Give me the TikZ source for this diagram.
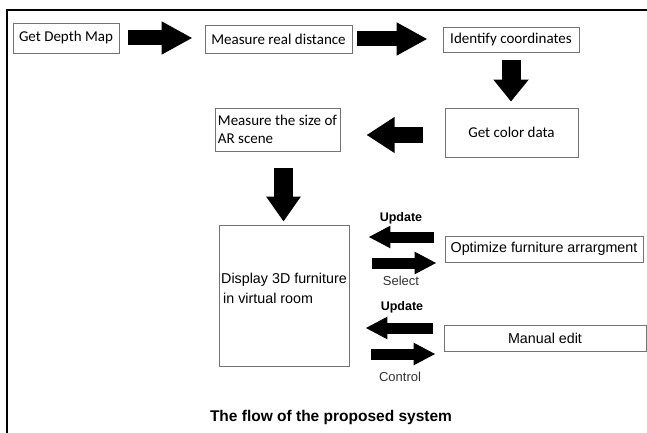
\documentclass[tikz,border=0pt]{standalone}
\usepackage{fontspec}
\setmainfont{Carlito}
\newfontfamily\arialfont{Liberation Sans}
\usetikzlibrary{arrows.meta}

\begin{document}
\begin{tikzpicture}[x=1pt, y=-1pt,
        box/.style={draw=black!55, line width=0.9pt, inner sep=0pt, text=black,
            font=\fontsize{15}{18}\selectfont},
        wbox/.style={box, font=\arialfont\fontsize{14.3}{20}\selectfont},
        bigarrow/.style={line width=15pt, -{Triangle[length=31pt,width=31pt]}},
        smallarrow/.style={line width=11pt, -{Triangle[length=22pt,width=21pt]}},
        lbl/.style={font=\arialfont\fontsize{13}{15}\selectfont, text=black!80}]
    \useasboundingbox (0,0) rectangle (647,433);

    % frame
    \draw[line width=1.1pt] (7,433) -- (7,10) -- (647,10);

    % top row
    \node[box, minimum width=106pt, minimum height=30pt] (gdm) at (66,38) {Get Depth Map};
    \node[box, minimum width=147pt, minimum height=28pt] (mrd) at (278.5,39) {Measure real distance};
    \node[box, minimum width=136pt, minimum height=25pt] (idc) at (511,39.5) {Identify coordinates};

    % second row
    \node[box, minimum width=133pt, minimum height=49pt] (gcd) at (511.5,132.5) {Get color data};
    \node[box, minimum width=123pt, minimum height=43pt, align=left, inner xsep=3pt] (msar) at (277.5,129.5)
        {Measure the size of\\AR scene};

    % bottom part
    \node[wbox, minimum width=130pt, minimum height=141pt] (disp) at (284,295.5) {};
    \node[align=left, text=black, font=\arialfont\fontsize{14.3}{20}\selectfont] (disptext)
        at ([yshift=7.5pt]disp.center) {Display 3D furniture\\\hspace*{2pt}in virtual room};
    \node[wbox, minimum width=198pt, minimum height=26pt] (opt) at (544,249) {Optimize furniture arrargment};
    \node[wbox, minimum width=202pt, minimum height=26pt] (med) at (545,338) {Manual edit};

    % block arrows
    \draw[bigarrow, shorten <=9pt, shorten >=12pt] (gdm.east) -- (gdm.east -| mrd.west);
    \draw[bigarrow, shorten <=5pt, shorten >=15pt] (mrd.east) -- (mrd.east -| idc.west);
    \draw[line width=19pt, -{Triangle[length=22pt,width=34pt]}, shorten <=8pt, shorten >=6pt]
        (idc.south) -- (idc.south |- gcd.north);
    \draw[line width=16pt, -{Triangle[length=28pt,width=34pt]}, shorten <=22pt, shorten >=26pt]
        ([yshift=-2.5pt]gcd.west) -- ([yshift=-2.5pt]gcd.west -| msar.east);
    \draw[line width=19pt, -{Triangle[length=25pt,width=33pt]}, shorten <=17pt, shorten >=3pt]
        ([xshift=6pt]msar.south) -- ([xshift=6pt]msar.south |- disp.north);

    \draw[smallarrow, shorten <=11pt, shorten >=19pt] ([yshift=12pt]opt.west) -- ([yshift=12pt]opt.west -| disp.east)
        node[lbl, midway, xshift=4pt, yshift=19pt, font=\arialfont\bfseries\fontsize{12.5}{15}\selectfont, text=black] {Update};
    \draw[smallarrow, shorten <=23pt, shorten >=8pt] ([yshift=-14pt]opt.west -| disp.east) -- ([yshift=-14pt]opt.west)
        node[lbl, midway, xshift=4pt, yshift=-18pt] {Select};
    \draw[smallarrow, shorten <=11pt, shorten >=16pt] ([yshift=10pt]med.west) -- ([yshift=10pt]med.west -| disp.east)
        node[lbl, midway, xshift=5.5pt, yshift=21pt, font=\arialfont\bfseries\fontsize{12.5}{15}\selectfont, text=black] {Update};
    \draw[smallarrow, shorten <=22pt, shorten >=8pt] ([yshift=-16pt]med.west -| disp.east) -- ([yshift=-16pt]med.west)
        node[lbl, midway, xshift=3.5pt, yshift=-23pt] {Control};

    % caption
    \node[font=\arialfont\bfseries\fontsize{15.5}{18}\selectfont] (caption) at (331,417) {The flow of the proposed system};
\end{tikzpicture}
\end{document}
